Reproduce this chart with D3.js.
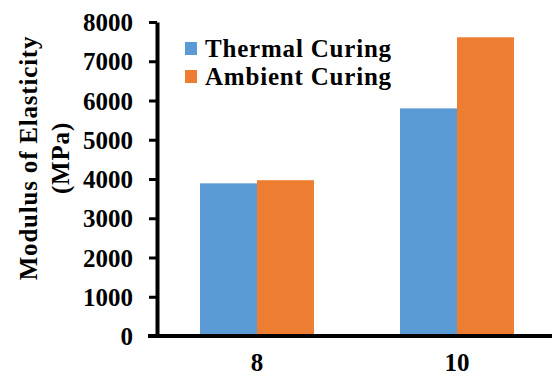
<!DOCTYPE html>
<html>
<head>
<meta charset="utf-8">
<script src="https://cdn.jsdelivr.net/npm/d3@7"></script>
<style>
  html, body { margin: 0; padding: 0; background: #fff; }
  svg { display: block; }
  text { font-family: "Liberation Serif", "Times New Roman", serif; font-weight: bold; fill: #000; }
</style>
</head>
<body>
<script>
const categories = ["8", "10"];
const seriesNames = ["Thermal Curing", "Ambient Curing"];
const thermalCuring = [3890, 5800];
const ambientCuring = [3970, 7610];
const yTicks = [0, 1000, 2000, 3000, 4000, 5000, 6000, 7000, 8000];
const yTitleLines = ["Modulus of Elasticity", "(MPa)"];
const colors = ["#5B9BD5", "#ED7D31"];

const W = 552, H = 378;
const svg = d3.select("body").append("svg").attr("width", W).attr("height", H);

const x0 = d3.scaleBand().domain(categories).range([157, 557]).paddingInner(0.43).paddingOuter(0.215);
const x1 = d3.scaleBand().domain(seriesNames).range([0, x0.bandwidth()]).padding(0);
const y = d3.scaleLinear().domain([0, 8000]).range([336, 22]);

const seriesData = [thermalCuring, ambientCuring];

// bars
categories.forEach((c, ci) => {
  const g = svg.append("g").attr("transform", `translate(${x0(c)},0)`);
  g.selectAll("rect")
    .data(seriesNames.map((s, si) => ({ s, si, v: seriesData[si][ci] })))
    .join("rect")
    .attr("x", d => x1(d.s))
    .attr("width", x1.bandwidth())
    .attr("y", d => y(d.v))
    .attr("height", d => y(0) - y(d.v))
    .attr("fill", d => colors[d.si]);
});

// y axis
const yAxis = svg.append("g")
  .attr("transform", "translate(157,0)")
  .call(d3.axisLeft(y).tickValues(yTicks).tickFormat(d3.format("d")).tickSize(8).tickSizeOuter(0).tickPadding(16));
yAxis.attr("font-family", null);
yAxis.select(".domain").attr("stroke", "#000").attr("stroke-width", 4);
yAxis.selectAll(".tick line").attr("stroke", "#000").attr("stroke-width", 3);
yAxis.selectAll(".tick text").attr("font-size", 25).attr("dy", "0.34em");

// x axis
const xAxis = svg.append("g")
  .attr("transform", "translate(0,336)")
  .call(d3.axisBottom(x0).tickSize(0).tickPadding(17));
xAxis.attr("font-family", null);
xAxis.select(".domain").remove();
xAxis.selectAll(".tick text").attr("font-size", 25);
xAxis.append("line")
  .attr("x1", 148).attr("x2", W).attr("y1", 0).attr("y2", 0)
  .attr("stroke", "#000").attr("stroke-width", 4);

// legend
const legend = svg.append("g");
seriesNames.forEach((s, i) => {
  legend.append("rect")
    .attr("x", 185).attr("y", 42 + i * 28)
    .attr("width", 12).attr("height", 13)
    .attr("fill", colors[i]);
  legend.append("text")
    .attr("x", 205).attr("y", 57 + i * 28)
    .attr("font-size", 25)
    .attr("letter-spacing", "0.8px")
    .text(s);
});

// y title
const titleX = [37, 68.5];
yTitleLines.forEach((t, i) => {
  svg.append("text")
    .attr("transform", `translate(${titleX[i]},158) rotate(-90)`)
    .attr("text-anchor", "middle")
    .attr("font-size", 25)
    .attr("letter-spacing", "0.8px")
    .text(t);
});
</script>
</body>
</html>
